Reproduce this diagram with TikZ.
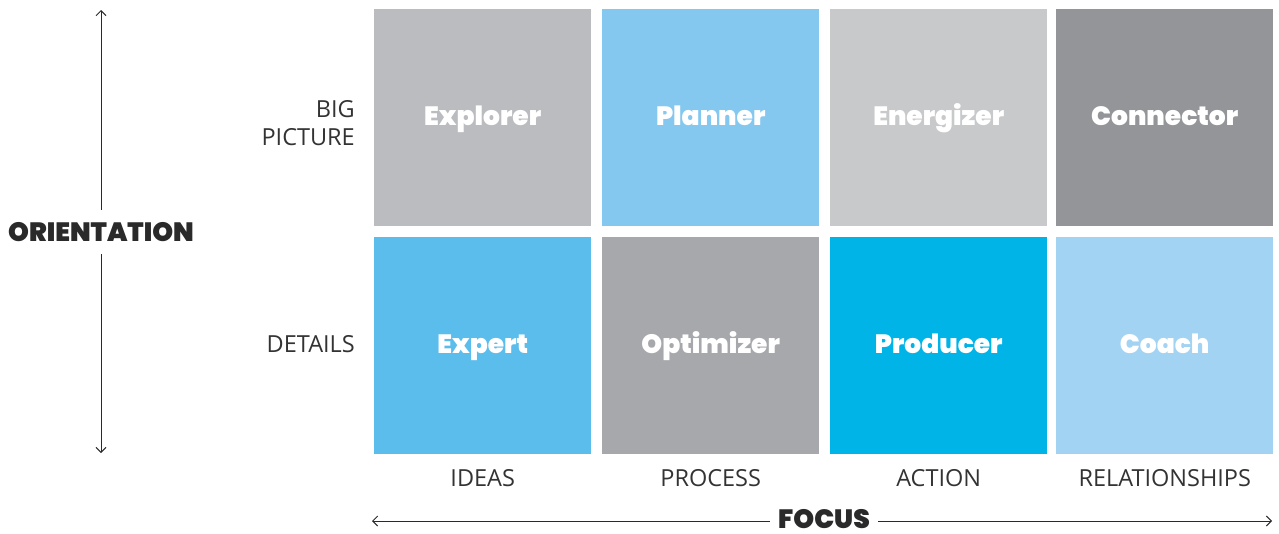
\documentclass[tikz,border=0pt]{standalone}
\usepackage{fontspec}
\setmainfont{Open Sans}
\newfontfamily\heavy{Poppins Black}
\usetikzlibrary{arrows.meta}
\definecolor{cExplorer}{HTML}{BBBCBF}
\definecolor{cPlanner}{HTML}{84C8EF}
\definecolor{cEnergizer}{HTML}{C8C9CB}
\definecolor{cConnector}{HTML}{939598}
\definecolor{cExpert}{HTML}{5BBDEB}
\definecolor{cOptimizer}{HTML}{A7A8AB}
\definecolor{cProducer}{HTML}{00B4E8}
\definecolor{cCoach}{HTML}{A3D3F2}
\definecolor{axtext}{HTML}{333333}
\definecolor{axline}{HTML}{2A2A2A}
\tikzset{
  cell/.style={fill=#1, draw=none, minimum width=217pt, minimum height=217pt, inner sep=0pt, anchor=north west},
  celltext/.style={text=white, font=\heavy\fontsize{26.5}{30}\selectfont, anchor=base},
  axlabel/.style={text=axtext, font=\fontsize{23.5}{28}\selectfont, inner sep=0pt},
  axtitle/.style={text=axline, font=\heavy\fontsize{26.5}{30}\selectfont, fill=white, inner xsep=8pt, inner ysep=0pt},
  axarrow/.style={draw=axline, line width=1pt, {Straight Barb[length=5pt,width=10pt]}-{Straight Barb[length=5pt,width=10pt]}}
}
\begin{document}
\begin{tikzpicture}[x=1pt,y=-1pt]
\useasboundingbox (0,0) rectangle (1279,533);
% cells
\node[cell=cExplorer]  (explorer)  at (374,9)  {};
\node[cell=cPlanner]   (planner)   at (602,9)  {};
\node[cell=cEnergizer] (energizer) at (830,9)  {};
\node[cell=cConnector] (connector) at (1056,9) {};
\node[cell=cExpert]    (expert)    at (374,237)  {};
\node[cell=cOptimizer] (optimizer) at (602,237)  {};
\node[cell=cProducer]  (producer)  at (830,237)  {};
\node[cell=cCoach]     (coach)     at (1056,237) {};
% cell labels
\foreach \n/\t in {explorer/Explorer, planner/Planner, energizer/Energizer, connector/Connector,
                   expert/Expert, optimizer/Optimizer, producer/Producer, coach/Coach}
  \node[celltext] (\n-t) at ([yshift=-116pt]\n.north) {\t};
% row labels
\node[axlabel, anchor=base east] (big) at (355,117) {BIG};
\node[axlabel, anchor=base east] (picture) at (355,145) {PICTURE};
\node[axlabel, anchor=base east] (details) at (355,352) {DETAILS};
% column labels
\node[axlabel, anchor=base] (ideas)   at (explorer.center |- 0,486) {IDEAS};
\node[axlabel, anchor=base] (process) at (planner.center |- 0,486) {PROCESS};
\node[axlabel, anchor=base] (action)  at (energizer.center |- 0,486) {ACTION};
\node[axlabel, anchor=base] (rel)     at (connector.center |- 0,486) {RELATIONSHIPS};
% orientation axis
\coordinate (otop) at (101,10);
\coordinate (obot) at (101,453);
\draw[axarrow] (otop) -- (obot);
\node[axtitle, inner ysep=12pt] (orient) at (101,232) {ORIENTATION};
% focus axis
\coordinate (fl) at (372,521);
\coordinate (fr) at (1272,521);
\draw[axarrow] (fl) -- (fr);
\node[axtitle] (focus) at (824,519) {FOCUS};
\end{tikzpicture}
\end{document}
